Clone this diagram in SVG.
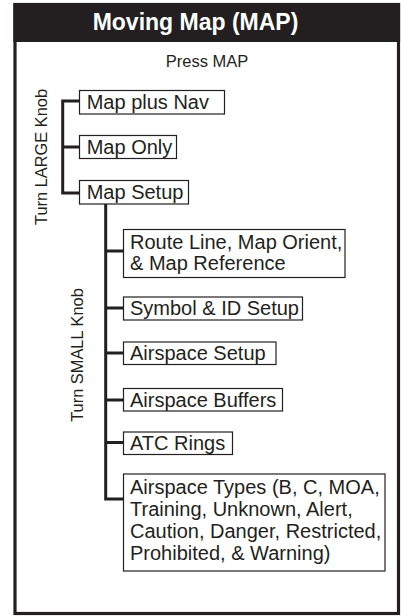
<svg xmlns="http://www.w3.org/2000/svg" width="401" height="616" viewBox="0 0 401 616">
<style>
.t{font-family:"Liberation Sans",Arial,sans-serif;fill:#231f20}
.bt{font-size:20px}
.box{fill:#fff;stroke:#231f20;stroke-width:1.2}
.ln{stroke:#231f20;stroke-width:3;fill:none}
</style>
<rect x="0" y="0" width="401" height="616" fill="#fff"/>
<rect x="15" y="4.5" width="383.5" height="609" fill="#fff" stroke="#231f20" stroke-width="3.2"/>
<rect x="13.4" y="3" width="386.7" height="39" fill="#231f20"/>
<text class="t" x="195.5" y="29.5" font-size="23" font-weight="bold" text-anchor="middle" style="fill:#fff">Moving Map (MAP)</text>
<text class="t" x="207" y="67" font-size="16.5" text-anchor="middle">Press MAP</text>
<text class="t" font-size="16.4" text-anchor="middle" transform="translate(46.5,157) rotate(-90)">Turn LARGE Knob</text>
<text class="t" font-size="16.4" text-anchor="middle" transform="translate(82.5,355) rotate(-90)">Turn SMALL Knob</text>
<g id="connectors">
<path class="ln" d="M79 101 H62.7 V193 H79 M62.7 147 H79"/>
<path class="ln" d="M105.7 204 V499 H123.3 M105.7 251 H123.3 M105.7 308 H123.3 M105.7 353 H123.3 M105.7 400 H123.3 M105.7 442.5 H123.3"/>
</g>
<g id="map-plus-nav"><rect class="box" x="79.5" y="90.5" width="145" height="23.5"/><text class="t bt" x="86.7" y="108.5">Map plus Nav</text></g>
<g id="map-only"><rect class="box" x="79.5" y="135.5" width="97" height="23"/><text class="t bt" x="86.7" y="153.5">Map Only</text></g>
<g id="map-setup"><rect class="box" x="79.5" y="180.5" width="109" height="23.5"/><text class="t bt" x="86.7" y="198.5">Map Setup</text></g>
<g id="route-line"><rect class="box" x="123.5" y="229.5" width="221.5" height="48"/><text class="t bt" x="130" y="248.5">Route Line, Map Orient,</text><text class="t bt" x="130" y="269.5">&amp; Map Reference</text></g>
<g id="symbol-id"><rect class="box" x="123.5" y="297" width="179" height="23"/><text class="t bt" x="130" y="315">Symbol &amp; ID Setup</text></g>
<g id="airspace-setup"><rect class="box" x="123.5" y="342" width="152.5" height="22.5"/><text class="t bt" x="130" y="360">Airspace Setup</text></g>
<g id="airspace-buffers"><rect class="box" x="123.5" y="388.5" width="159" height="22.5"/><text class="t bt" x="130" y="406.5">Airspace Buffers</text></g>
<g id="atc-rings"><rect class="box" x="123.5" y="432" width="109" height="22.5"/><text class="t bt" x="130" y="449.5">ATC Rings</text></g>
<g id="airspace-types"><rect class="box" x="123.5" y="474" width="261.5" height="97"/><text class="t bt" x="130" y="493.5">Airspace Types (B, C, MOA,</text><text class="t bt" x="130" y="515.7">Training, Unknown, Alert,</text><text class="t bt" x="130" y="537.9">Caution, Danger, Restricted,</text><text class="t bt" x="130" y="560.1">Prohibited, &amp; Warning)</text></g>
</svg>
